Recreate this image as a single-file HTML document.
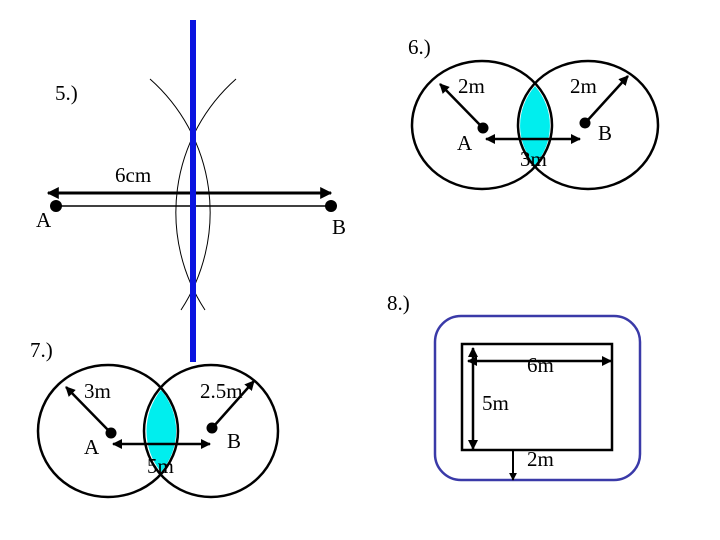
<!DOCTYPE html>
<html><head><style>
html,body{margin:0;padding:0;background:#fff;}
svg{display:block;}
text{font-family:"Liberation Serif",serif;font-size:21px;fill:#000;}
</style></head><body>
<svg width="720" height="540" viewBox="0 0 720 540" xmlns="http://www.w3.org/2000/svg">
<defs>
<marker id="ah" viewBox="0 0 10 10" refX="9" refY="5" markerWidth="4" markerHeight="4" orient="auto-start-reverse">
<path d="M0,0 L10,5 L0,10 z" fill="#000"/>
</marker>
</defs>
<rect width="720" height="540" fill="#fff"/>

<!-- 5.) -->
<text x="55" y="100">5.)</text>
<path d="M150,79 A178,178 0 0 1 181,310" fill="none" stroke="#000" stroke-width="1"/>
<path d="M236,79 A178,178 0 0 0 205,310" fill="none" stroke="#000" stroke-width="1"/>
<line x1="48" y1="193" x2="331" y2="193" stroke="#000" stroke-width="3" marker-start="url(#ah)" marker-end="url(#ah)"/>
<line x1="56" y1="206" x2="331" y2="206" stroke="#000" stroke-width="1.5"/>
<circle cx="56" cy="206" r="6" fill="#000"/>
<circle cx="331" cy="206" r="6" fill="#000"/>
<text x="115" y="182">6cm</text>
<text x="36" y="227">A</text>
<text x="332" y="234">B</text>
<rect x="190" y="20" width="6" height="342" fill="#0a14e0"/>

<!-- 6.) -->
<text x="408" y="54">6.)</text>
<path d="M535,86 A70,64 0 0 0 535,165 A70,64 0 0 0 535,86 z" fill="#00eeee"/>
<ellipse cx="482" cy="125" rx="70" ry="64" fill="none" stroke="#000" stroke-width="2.5"/>
<ellipse cx="588" cy="125" rx="70" ry="64" fill="none" stroke="#000" stroke-width="2.5"/>
<circle cx="483" cy="128" r="5.5" fill="#000"/>
<circle cx="585" cy="123" r="5.5" fill="#000"/>
<line x1="481" y1="126" x2="440" y2="84" stroke="#000" stroke-width="2.5" marker-end="url(#ah)"/>
<line x1="587" y1="121" x2="628" y2="76" stroke="#000" stroke-width="2.5" marker-end="url(#ah)"/>
<line x1="486" y1="139" x2="580" y2="139" stroke="#000" stroke-width="2.5" marker-start="url(#ah)" marker-end="url(#ah)"/>
<text x="458" y="93">2m</text>
<text x="570" y="93">2m</text>
<text x="457" y="150">A</text>
<text x="598" y="140">B</text>
<text x="520" y="166">3m</text>

<!-- 7.) -->
<text x="30" y="357">7.)</text>
<path d="M161,390 A67,66 0 0 0 161,472 A70,66 0 0 0 161,390 z" fill="#00eeee"/>
<ellipse cx="108" cy="431" rx="70" ry="66" fill="none" stroke="#000" stroke-width="2.5"/>
<ellipse cx="211" cy="431" rx="67" ry="66" fill="none" stroke="#000" stroke-width="2.5"/>
<circle cx="111" cy="433" r="5.5" fill="#000"/>
<circle cx="212" cy="428" r="5.5" fill="#000"/>
<line x1="109" y1="431" x2="66" y2="387" stroke="#000" stroke-width="2.5" marker-end="url(#ah)"/>
<line x1="214" y1="426" x2="254" y2="381" stroke="#000" stroke-width="2.5" marker-end="url(#ah)"/>
<line x1="113" y1="444" x2="210" y2="444" stroke="#000" stroke-width="2.5" marker-start="url(#ah)" marker-end="url(#ah)"/>
<text x="84" y="398">3m</text>
<text x="200" y="398">2.5m</text>
<text x="84" y="454">A</text>
<text x="227" y="448">B</text>
<text x="147" y="473">5m</text>

<!-- 8.) -->
<text x="387" y="310">8.)</text>
<rect x="435" y="316" width="205" height="164" rx="26" ry="26" fill="none" stroke="#3a3aa8" stroke-width="2.5"/>
<rect x="462" y="344" width="150" height="106" fill="none" stroke="#000" stroke-width="2.5"/>
<line x1="473" y1="348" x2="473" y2="449" stroke="#000" stroke-width="2.5" marker-start="url(#ah)" marker-end="url(#ah)"/>
<line x1="468" y1="361" x2="611" y2="361" stroke="#000" stroke-width="2.5" marker-start="url(#ah)" marker-end="url(#ah)"/>
<line x1="513" y1="450" x2="513" y2="480" stroke="#000" stroke-width="2" marker-end="url(#ah)"/>
<text x="527" y="372">6m</text>
<text x="482" y="410">5m</text>
<text x="527" y="466">2m</text>
</svg>
</body></html>
